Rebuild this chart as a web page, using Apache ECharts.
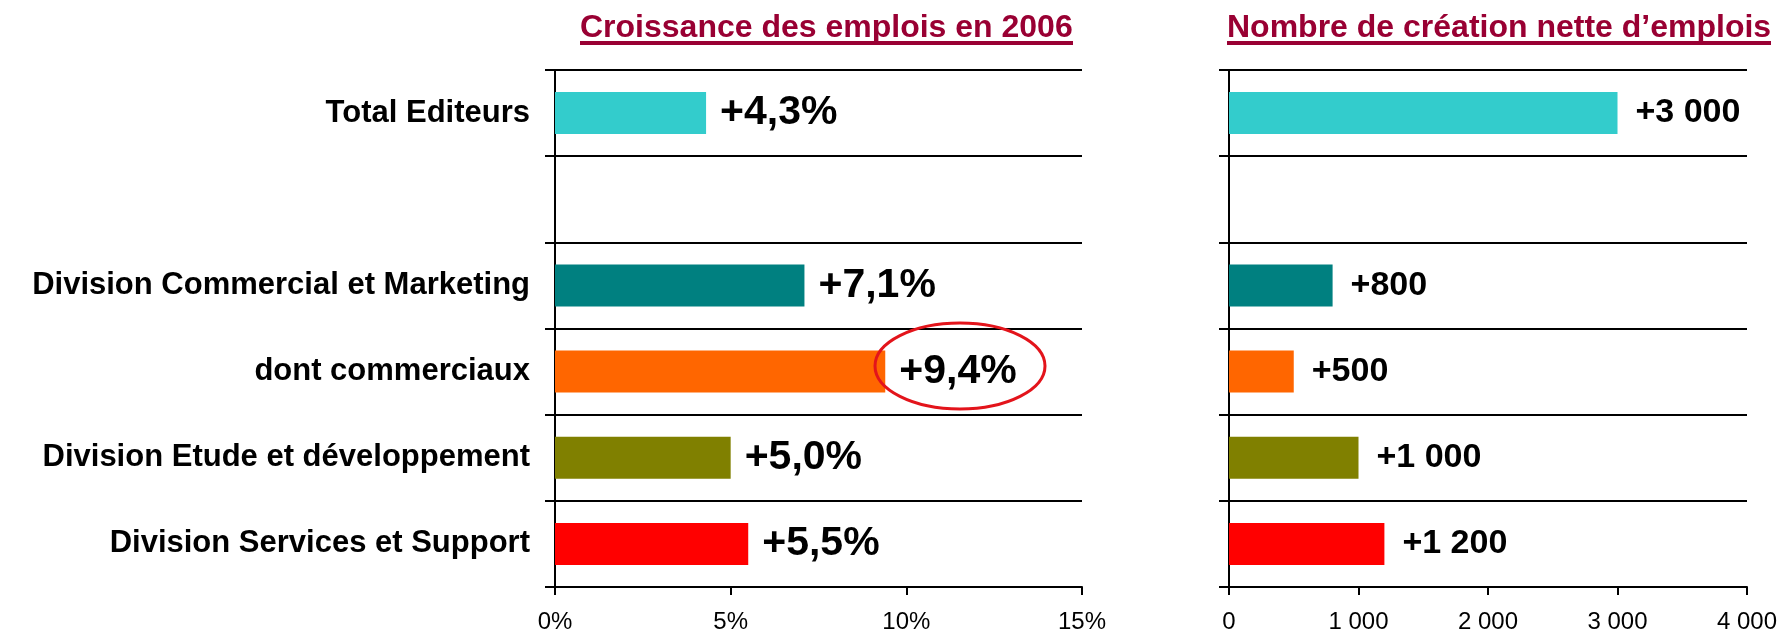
<!DOCTYPE html>
<html>
<head>
<meta charset="utf-8">
<script src="https://cdn.jsdelivr.net/npm/echarts@6/dist/echarts.min.js"></script>
<style>
  html, body { margin: 0; padding: 0; background: #fff; }
  #chart { width: 1780px; height: 632px; }
</style>
</head>
<body>
<div id="chart"></div>
<script>
// categories (blank row separates the total from the divisions)
const categories = ['Total Editeurs', '', 'Division Commercial et Marketing', 'dont commerciaux', 'Division Etude et développement', 'Division Services et Support'];
// croissance des emplois en 2006 (%)
const growthPct = [4.3, null, 7.1, 9.4, 5.0, 5.5];
// nombre de création nette d'emplois
const netJobs = [3000, null, 800, 500, 1000, 1200];
const barColors = ['#33CCCC', '#FFFFFF', '#008080', '#FF6600', '#808000', '#FF0000'];
// tick labels
const growthTicks = [0, 5, 10, 15];
const jobsTicks = [0, 1000, 2000, 3000, 4000];

const FONT = '"Liberation Sans", Arial, sans-serif';
const chart = echarts.init(document.getElementById('chart'));

const spaced = v => String(v).replace(/\B(?=(\d{3})+(?!\d))/g, ' ');
const toItems = arr => arr.map((v, i) => v == null ? '-' : { value: v, itemStyle: { color: barColors[i] } });

function valueAxis(gridIndex, ticks, fmt) {
  return {
    type: 'value', gridIndex: gridIndex,
    min: ticks[0], max: ticks[ticks.length - 1], interval: ticks[1] - ticks[0],
    axisLine: { show: true, lineStyle: { color: '#000', width: 2 } },
    axisTick: { show: true, length: 8, lineStyle: { color: '#000', width: 2 } },
    axisLabel: { formatter: fmt, fontFamily: FONT, fontSize: 24, color: '#000', margin: 23 },
    splitLine: { show: false }
  };
}

function catAxis(gridIndex, showLabels) {
  return {
    type: 'category', gridIndex: gridIndex, inverse: true, data: categories,
    axisLine: { show: true, lineStyle: { color: '#000', width: 2 } },
    axisTick: { show: true, interval: 0, length: 10, lineStyle: { color: '#000', width: 2 } },
    axisLabel: { show: showLabels, interval: 0, fontFamily: FONT, fontWeight: 'bold', fontSize: 31, color: '#000', margin: 25 },
    splitLine: { show: true, interval: 0, lineStyle: { color: '#000', width: 2 } }
  };
}

const option = {
  backgroundColor: '#fff',
  animation: false,
  title: [
    { text: 'Croissance des emplois en 2006', left: 580, top: 12, padding: 0,
      textStyle: { fontFamily: FONT, fontWeight: 'bold', fontSize: 32, color: '#990033' } },
    { text: 'Nombre de création nette d’emplois', left: 1227, top: 12, padding: 0,
      textStyle: { fontFamily: FONT, fontWeight: 'bold', fontSize: 32, color: '#990033' } }
  ],
  grid: [
    { left: 555, right: 698, top: 70, bottom: 45, outerBoundsMode: 'none' },
    { left: 1229, right: 33, top: 70, bottom: 45, outerBoundsMode: 'none' }
  ],
  xAxis: [
    valueAxis(0, growthTicks, v => v + '%'),
    valueAxis(1, jobsTicks, v => spaced(v))
  ],
  yAxis: [catAxis(0, true), catAxis(1, false)],
  series: [
    {
      type: 'bar', xAxisIndex: 0, yAxisIndex: 0, barWidth: 42,
      data: toItems(growthPct),
      label: {
        show: true, position: 'right', distance: 14,
        fontFamily: FONT, fontWeight: 'bold', fontSize: 41, color: '#000',
        formatter: p => '+' + p.value.toFixed(1).replace('.', ',') + '%'
      }
    },
    {
      type: 'bar', xAxisIndex: 1, yAxisIndex: 1, barWidth: 42,
      data: toItems(netJobs),
      label: {
        show: true, position: 'right', distance: 18,
        fontFamily: FONT, fontWeight: 'bold', fontSize: 34, color: '#000',
        formatter: p => '+' + spaced(p.value)
      }
    }
  ],
  graphic: [
    // soulignement des titres
    { type: 'rect', shape: { x: 580, y: 41, width: 493, height: 4 }, style: { fill: '#990033' } },
    { type: 'rect', shape: { x: 1227, y: 41, width: 544, height: 4 }, style: { fill: '#990033' } },
    // cercle rouge autour de +9,4%
    { type: 'ellipse', z: 100, shape: { cx: 960, cy: 366, rx: 85, ry: 43 },
      style: { fill: 'none', stroke: '#E3141B', lineWidth: 3 } }
  ]
};

chart.setOption(option);
window.addEventListener('resize', () => chart.resize());
</script>
</body>
</html>
